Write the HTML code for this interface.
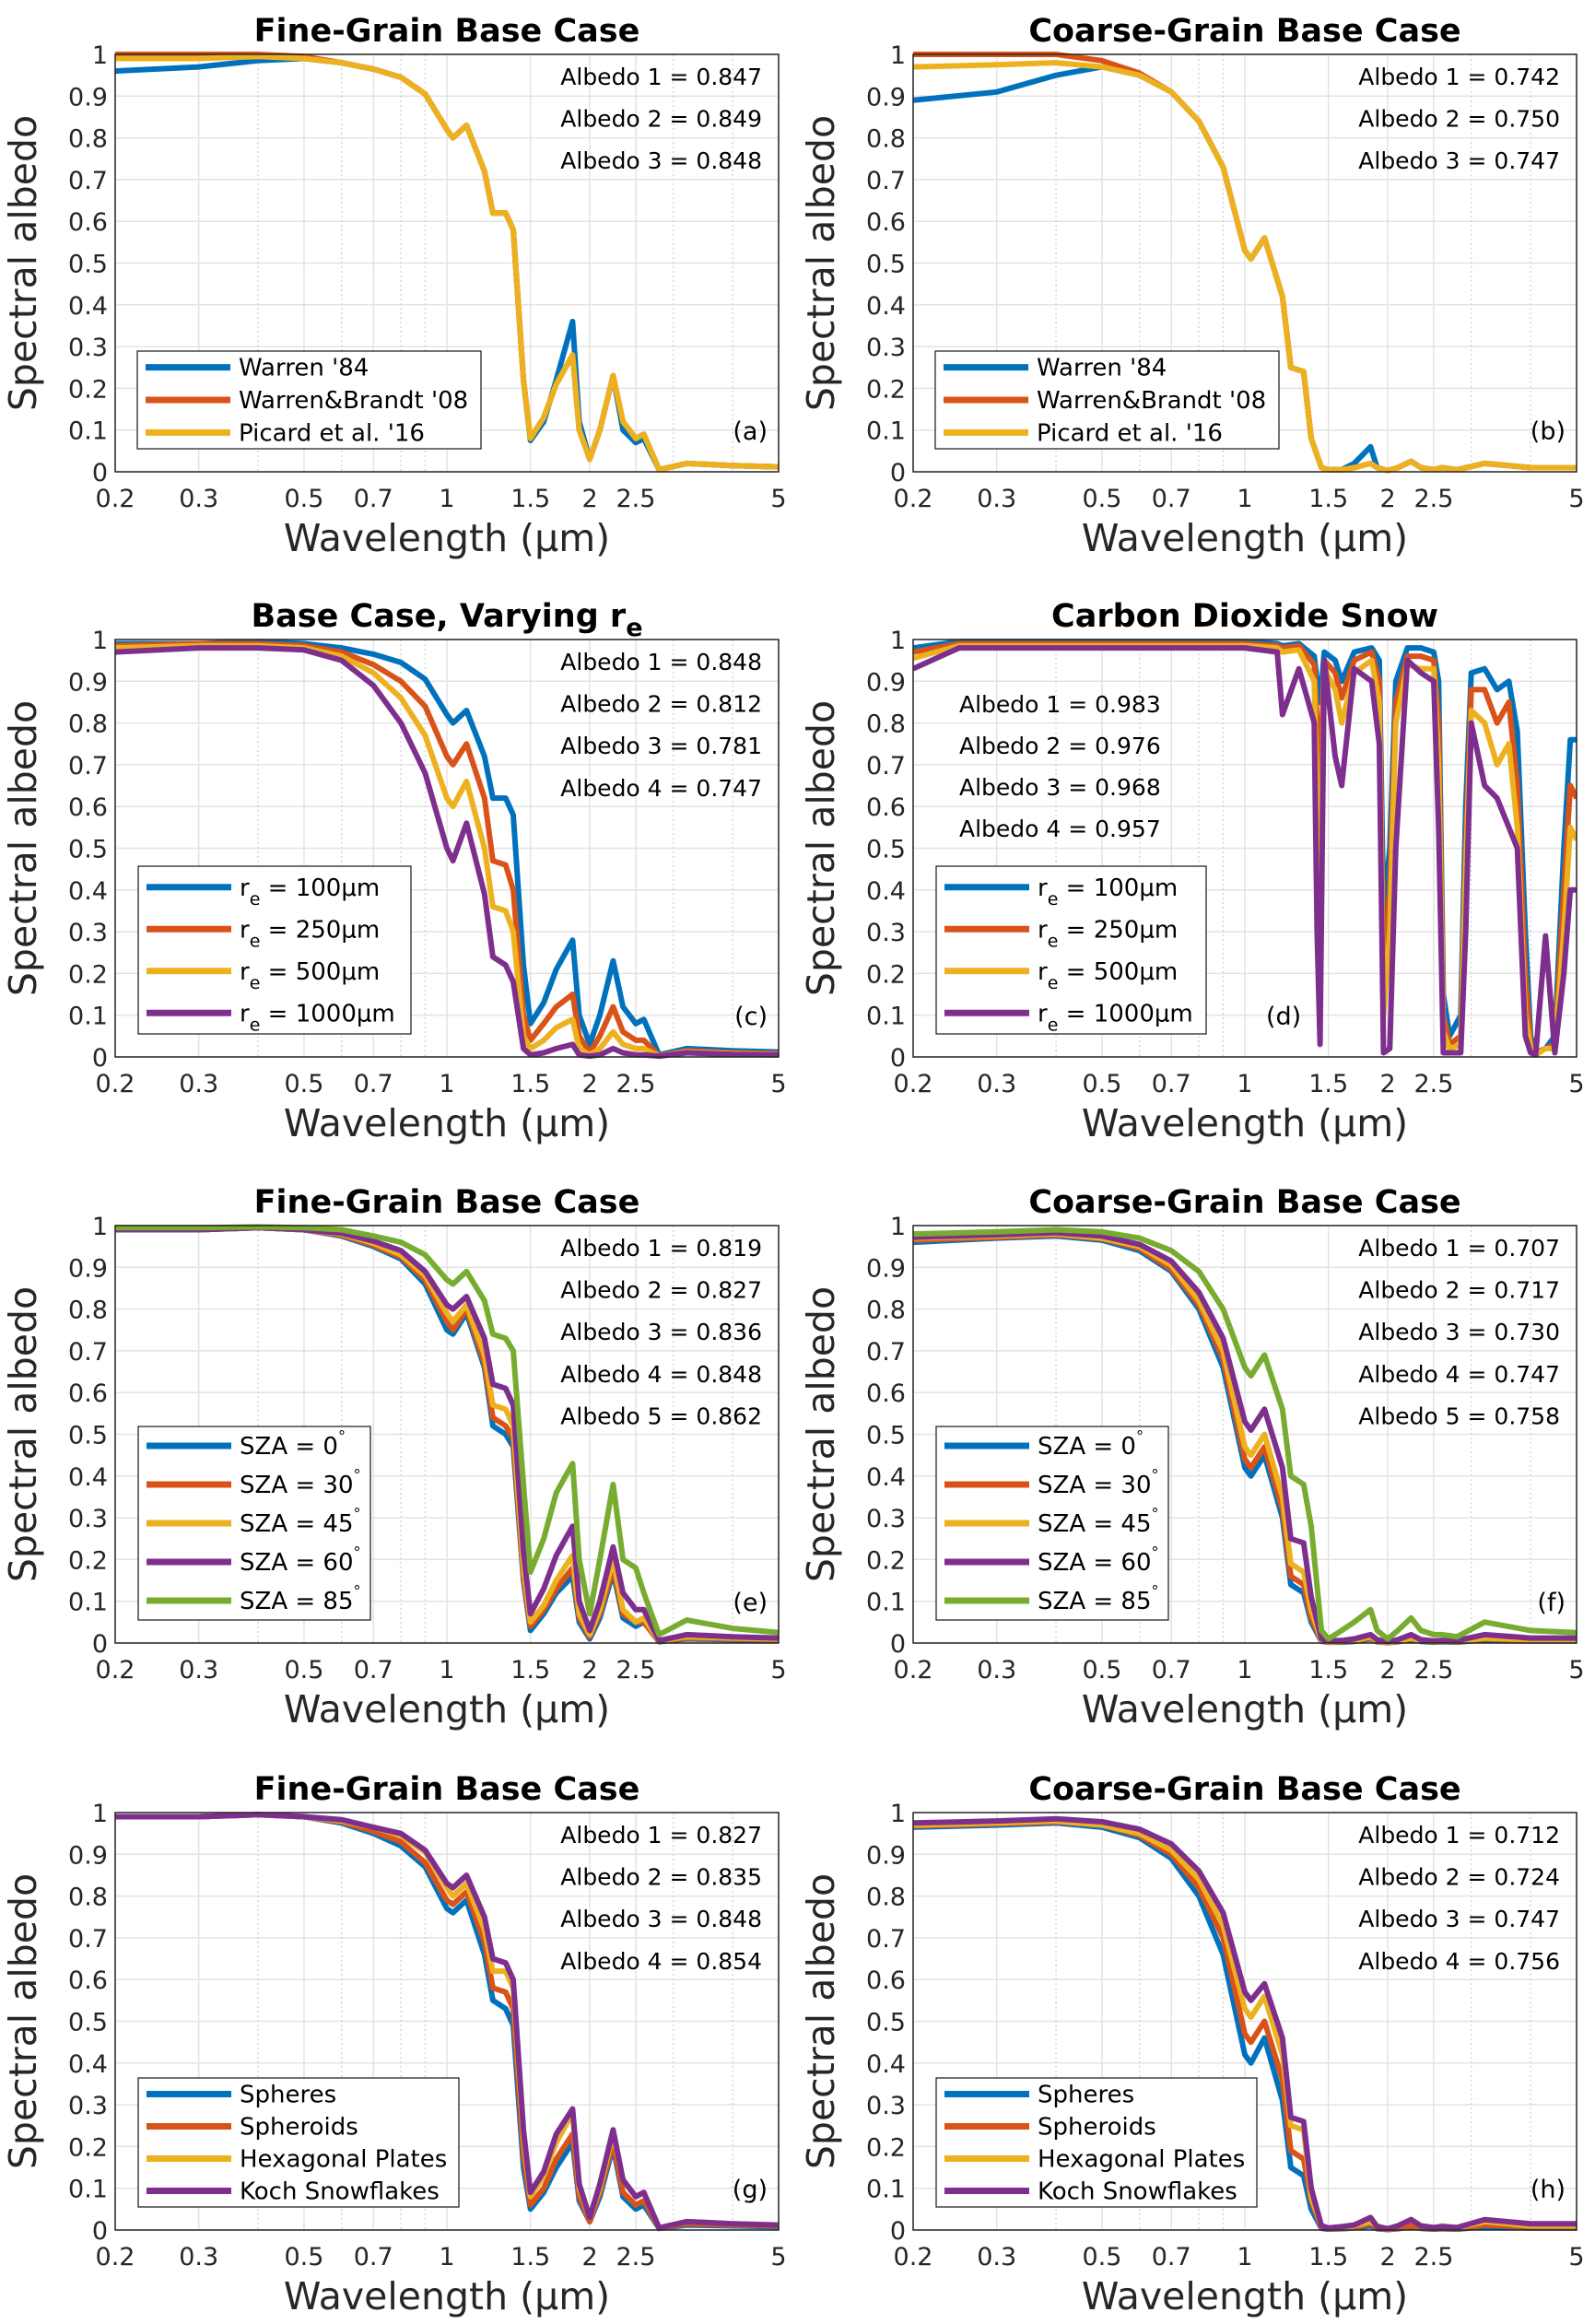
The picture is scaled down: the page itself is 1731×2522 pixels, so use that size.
<!DOCTYPE html>
<html><head><meta charset="utf-8"><style>
html,body{margin:0;padding:0;background:#fff;}
svg{display:block;font-family:"DejaVu Sans","Liberation Sans",sans-serif;}
</style></head><body>
<svg id="fig" xmlns="http://www.w3.org/2000/svg" width="1731" height="2522" viewBox="0 0 1731 2522"></svg>
<script>
// shared wavelength grid (um) for ice panels
const wlIce=[0.2,0.3,0.4,0.5,0.6,0.7,0.8,0.9,1.0,1.03,1.1,1.2,1.25,1.33,1.38,1.45,1.5,1.6,1.7,1.84,1.9,2.0,2.1,2.24,2.35,2.5,2.6,2.8,3.2,4,5];
// (a)
const aWarren=[.96,.97,.985,.99,.98,.965,.945,.905,.82,.80,.83,.72,.62,.62,.58,.22,.075,.12,.22,.36,.12,.03,.10,.23,.10,.07,.08,.005,.02,.015,.012];
const aBrandt=[1,1,1,.995,.98,.965,.945,.905,.82,.80,.83,.72,.62,.62,.58,.22,.08,.13,.21,.28,.10,.03,.10,.23,.12,.08,.09,.005,.02,.015,.012];
const aPicard=[.99,.99,.995,.99,.98,.965,.945,.905,.82,.80,.83,.72,.62,.62,.58,.22,.08,.13,.21,.28,.10,.03,.10,.23,.12,.08,.09,.005,.02,.015,.012];
// (b)
const bWarren=[.89,.91,.95,.97,.95,.91,.84,.73,.53,.51,.56,.42,.25,.24,.08,.01,.005,.005,.02,.06,.01,.003,.01,.025,.01,.005,.01,.005,.02,.01,.01];
const bBrandt=[1,1,1,.985,.955,.91,.84,.73,.53,.51,.56,.42,.25,.24,.08,.01,.005,.005,.01,.02,.01,.003,.01,.025,.01,.005,.01,.005,.02,.01,.01];
const bPicard=[.97,.975,.98,.97,.95,.91,.84,.73,.53,.51,.56,.42,.25,.24,.08,.01,.005,.005,.01,.02,.01,.003,.01,.025,.01,.005,.01,.005,.02,.01,.01];
// (c)
const cR100=[.99,.99,.995,.99,.98,.965,.945,.905,.82,.80,.83,.72,.62,.62,.58,.22,.08,.13,.21,.28,.10,.03,.10,.23,.12,.08,.09,.005,.02,.015,.012];
const cR250=[.985,.99,.99,.985,.97,.94,.9,.84,.72,.70,.75,.62,.47,.46,.4,.1,.04,.08,.12,.15,.05,.01,.05,.12,.06,.04,.04,.003,.015,.01,.008];
const cR500=[.98,.985,.985,.98,.96,.92,.86,.77,.62,.6,.66,.5,.36,.35,.3,.05,.02,.04,.07,.09,.02,.005,.02,.06,.03,.02,.02,.002,.012,.008,.006];
const cR1000=[.97,.98,.98,.975,.95,.89,.8,.68,.5,.47,.56,.39,.24,.22,.18,.02,.005,.01,.02,.03,.005,.002,.005,.02,.01,.005,.005,.002,.01,.006,.005];
// (d) CO2 snow
const wlCO2=[0.2,0.25,0.3,1.0,1.17,1.2,1.3,1.4,1.42,1.44,1.47,1.55,1.6,1.7,1.85,1.92,1.96,2.02,2.08,2.2,2.35,2.5,2.56,2.62,2.7,2.85,2.92,3.0,3.2,3.4,3.6,3.75,3.9,4.0,4.1,4.3,4.5,4.7,4.85,5.0];
const dR100=[.98,.995,.995,.995,.99,.985,.99,.96,.9,.85,.97,.95,.9,.97,.98,.95,.35,.5,.9,.98,.98,.97,.9,.15,.05,.1,.6,.92,.93,.88,.9,.78,.3,.05,.01,.02,.05,.5,.76,.76];
const dR250=[.97,.99,.99,.99,.985,.98,.985,.94,.8,.65,.95,.92,.86,.95,.97,.9,.2,.4,.85,.96,.96,.95,.8,.1,.03,.05,.5,.88,.88,.8,.85,.65,.2,.03,.01,.02,.03,.4,.65,.62];
const dR500=[.955,.985,.985,.985,.98,.97,.975,.9,.6,.35,.93,.88,.8,.92,.95,.85,.1,.3,.8,.94,.93,.93,.7,.06,.02,.03,.45,.83,.8,.7,.75,.55,.1,.02,.005,.02,.02,.3,.55,.52];
const dR1000=[.93,.98,.98,.98,.97,.82,.93,.8,.3,.03,.95,.72,.65,.93,.9,.75,.01,.02,.5,.95,.92,.9,.55,.01,.01,.01,.3,.8,.65,.62,.55,.5,.05,.01,.005,.29,.01,.2,.4,.4];
// (e)
const eS0=[.99,.99,.995,.99,.975,.95,.92,.86,.75,.74,.79,.66,.52,.50,.47,.15,.03,.07,.12,.16,.05,.01,.06,.17,.06,.04,.05,.003,.01,.008,.006];
const eS30=[.99,.99,.995,.99,.977,.953,.925,.87,.77,.75,.80,.67,.54,.52,.49,.16,.04,.08,.13,.18,.06,.015,.07,.18,.07,.05,.05,.004,.012,.01,.008];
const eS45=[.99,.99,.995,.99,.98,.958,.93,.88,.79,.77,.81,.69,.57,.56,.52,.18,.05,.09,.15,.21,.07,.02,.08,.20,.08,.05,.06,.005,.015,.012,.01];
const eS60=[.99,.99,.995,.99,.982,.963,.94,.89,.81,.80,.83,.73,.62,.61,.57,.22,.07,.13,.21,.28,.10,.03,.10,.23,.12,.08,.08,.006,.02,.015,.012];
const eS85=[.995,.995,.997,.995,.99,.975,.96,.93,.87,.86,.89,.82,.74,.73,.70,.38,.17,.25,.36,.43,.20,.07,.20,.38,.20,.18,.12,.02,.055,.035,.025];
// (f)
const fS0=[.96,.97,.975,.965,.94,.89,.80,.66,.42,.40,.45,.30,.14,.12,.05,.004,.002,.002,.004,.01,.003,.001,.003,.008,.004,.002,.003,.002,.008,.005,.005];
const fS30=[.965,.972,.978,.968,.945,.895,.81,.68,.44,.42,.47,.32,.16,.14,.06,.005,.002,.003,.005,.012,.004,.001,.004,.01,.005,.003,.004,.003,.01,.006,.006];
const fS45=[.97,.975,.98,.97,.95,.905,.82,.70,.47,.45,.50,.35,.19,.17,.08,.006,.003,.004,.006,.015,.005,.002,.005,.012,.006,.004,.005,.004,.012,.008,.008];
const fS60=[.972,.978,.983,.975,.955,.915,.84,.73,.53,.51,.56,.42,.25,.24,.11,.01,.005,.006,.01,.02,.008,.003,.008,.02,.008,.005,.006,.006,.02,.012,.012];
const fS85=[.98,.985,.99,.985,.97,.94,.89,.80,.66,.64,.69,.56,.40,.38,.28,.03,.01,.03,.05,.08,.03,.01,.03,.06,.03,.02,.02,.015,.05,.03,.025];
// (g)
const gSph=[.99,.99,.995,.99,.975,.95,.92,.87,.77,.76,.79,.66,.55,.53,.49,.15,.05,.09,.15,.21,.07,.02,.08,.20,.08,.05,.06,.004,.012,.01,.008];
const gSpd=[.99,.99,.995,.99,.978,.955,.93,.88,.79,.78,.81,.69,.58,.57,.53,.18,.06,.10,.17,.23,.08,.02,.09,.21,.09,.06,.07,.004,.015,.012,.01];
const gHex=[.99,.99,.995,.99,.98,.965,.945,.905,.82,.80,.83,.72,.62,.62,.58,.22,.08,.13,.21,.28,.10,.03,.10,.23,.12,.08,.09,.005,.02,.015,.012];
const gKoch=[.99,.99,.995,.99,.983,.965,.95,.91,.83,.82,.85,.75,.65,.64,.60,.24,.09,.14,.23,.29,.11,.03,.11,.24,.12,.08,.09,.005,.02,.015,.012];
// (h)
const hSph=[.965,.97,.975,.965,.94,.89,.80,.66,.42,.40,.46,.31,.15,.13,.05,.004,.002,.003,.005,.01,.003,.001,.003,.008,.004,.002,.003,.002,.008,.005,.005];
const hSpd=[.968,.973,.978,.97,.945,.9,.82,.70,.47,.45,.50,.36,.19,.17,.07,.006,.003,.004,.006,.015,.004,.002,.004,.01,.005,.003,.004,.003,.012,.008,.008];
const hHex=[.97,.975,.98,.97,.95,.91,.84,.73,.53,.51,.56,.42,.25,.24,.08,.01,.005,.005,.01,.02,.01,.003,.01,.025,.01,.005,.01,.005,.02,.01,.01];
const hKoch=[.975,.98,.985,.978,.96,.925,.86,.76,.57,.55,.59,.46,.27,.26,.10,.01,.005,.008,.012,.03,.008,.003,.01,.025,.01,.006,.008,.006,.025,.015,.015];

const xTickVals=[0.2,0.3,0.5,0.7,1,1.5,2,2.5,5];
const xTickLabels=["0.2","0.3","0.5","0.7","1","1.5","2","2.5","5"];
const xMinorVals=[0.4,0.6,0.8,0.9,3,4];
const yTickVals=[0,0.1,0.2,0.3,0.4,0.5,0.6,0.7,0.8,0.9,1];
const yTickLabels=["0","0.1","0.2","0.3","0.4","0.5","0.6","0.7","0.8","0.9","1"];

const C=["#0072BD","#D95319","#EDB120","#7E2F8E","#77AC30"];
const NS="http://www.w3.org/2000/svg";
const svg=document.getElementById('fig');
function mk(tag,attrs,parent){const e=document.createElementNS(NS,tag);for(const k in attrs)e.setAttribute(k,attrs[k]);(parent||svg).appendChild(e);return e;}

const colX=[125,991], W=720, H=453, rowY=[59,694,1330,1967];
const re=(v)=>({pre:"r",sub:"e",post:" = "+v+"\u03bcm"});
const sza=(v)=>({pre:"SZA = "+v,sup:"\u00b0"});
const panels=[
 {id:"a",title:"Fine-Grain Base Case",c:0,r:0,wl:wlIce,series:[aWarren,aBrandt,aPicard],names:["Warren '84","Warren&Brandt '08","Picard et al. '16"],alb:["0.847","0.849","0.848"],leg:{x:24,y:322,w:373,sp:34}},
 {id:"b",title:"Coarse-Grain Base Case",c:1,r:0,wl:wlIce,series:[bWarren,bBrandt,bPicard],names:["Warren '84","Warren&Brandt '08","Picard et al. '16"],alb:["0.742","0.750","0.747"],leg:{x:24,y:322,w:373,sp:34}},
 {id:"c",title:"Base Case, Varying r",titleSub:"e",c:0,r:1,wl:wlIce,series:[cR100,cR250,cR500,cR1000],names:[re("100"),re("250"),re("500"),re("1000")],alb:["0.848","0.812","0.781","0.747"],leg:{x:25,y:246,w:296,sp:45}},
 {id:"d",title:"Carbon Dioxide Snow",c:1,r:1,wl:wlCO2,series:[dR100,dR250,dR500,dR1000],names:[re("100"),re("250"),re("500"),re("1000")],alb:["0.983","0.976","0.968","0.957"],leg:{x:25,y:246,w:293,sp:45},albLeft:true,labX:383},
 {id:"e",title:"Fine-Grain Base Case",c:0,r:2,wl:wlIce,series:[eS0,eS30,eS45,eS60,eS85],names:[sza("0"),sza("30"),sza("45"),sza("60"),sza("85")],alb:["0.819","0.827","0.836","0.848","0.862"],leg:{x:25,y:218,w:252,sp:42}},
 {id:"f",title:"Coarse-Grain Base Case",c:1,r:2,wl:wlIce,series:[fS0,fS30,fS45,fS60,fS85],names:[sza("0"),sza("30"),sza("45"),sza("60"),sza("85")],alb:["0.707","0.717","0.730","0.747","0.758"],leg:{x:25,y:218,w:252,sp:42}},
 {id:"g",title:"Fine-Grain Base Case",c:0,r:3,wl:wlIce,series:[gSph,gSpd,gHex,gKoch],names:["Spheres","Spheroids","Hexagonal Plates","Koch Snowflakes"],alb:["0.827","0.835","0.848","0.854"],leg:{x:25,y:288,w:348,sp:34}},
 {id:"h",title:"Coarse-Grain Base Case",c:1,r:3,wl:wlIce,series:[hSph,hSpd,hHex,hKoch],names:["Spheres","Spheroids","Hexagonal Plates","Koch Snowflakes"],alb:["0.712","0.724","0.747","0.756"],leg:{x:25,y:288,w:348,sp:34}}
];

panels.forEach(p=>{
 const L=colX[p.c], T=rowY[p.r];
 const xs=v=>L+W*Math.log(v/0.2)/Math.log(25);
 const ys=v=>T+H*(1-v);
 const g=mk('g',{});
 
 
 const bg=mk('rect',{x:L,y:T,width:W,height:H,fill:'#fff'},g);
 
 
 yTickVals.forEach(v=>{const l=mk('line',{x1:L,x2:L+W,y1:ys(v),y2:ys(v),stroke:'#e3e3e3','stroke-width':1.5},g);
  
  });
 xTickVals.forEach(v=>{const l=mk('line',{x1:xs(v),x2:xs(v),y1:T,y2:T+H,stroke:'#e3e3e3','stroke-width':1.5},g);
  
  });
 xMinorVals.forEach(v=>{const l=mk('line',{x1:xs(v),x2:xs(v),y1:T,y2:T+H,stroke:'#cfcfcf','stroke-width':1.2,'stroke-dasharray':'2,3'},g);
  
  });
 const cp=mk('clipPath',{id:'cp'+p.id},g);mk('rect',{x:L,y:T-3,width:W,height:H+6},cp);
 p.series.forEach((s,i)=>{
  const d=s.map((v,k)=>(k?'L':'M')+xs(p.wl[k]).toFixed(1)+','+ys(v).toFixed(1)).join('');
  const path=mk('path',{d:d,fill:'none',stroke:C[i],'stroke-width':6,'stroke-linejoin':'round','clip-path':'url(#cp'+p.id+')'},g);
  
  
 });
 const box=mk('rect',{x:L,y:T,width:W,height:H,fill:'none',stroke:'#262626','stroke-width':1.5},g);
 
 
 yTickVals.forEach((v,i)=>{const t=mk('text',{x:L-8,y:ys(v)+10,'text-anchor':'end','font-size':27,fill:'#262626'},g);t.textContent=yTickLabels[i];
  
  });
 xTickVals.forEach((v,i)=>{const t=mk('text',{x:xs(v),y:T+H+38,'text-anchor':'middle','font-size':27,fill:'#262626'},g);t.textContent=xTickLabels[i];
  
  });
 const xl=mk('text',{x:L+W/2,y:T+H+86,'text-anchor':'middle','font-size':41,fill:'#262626'},g);xl.textContent='Wavelength (\u03bcm)';
 
 
 const yl=mk('text',{x:0,y:0,'text-anchor':'middle','font-size':41,fill:'#262626',transform:`translate(${L-86},${T+H/2}) rotate(-90)`},g);yl.textContent='Spectral albedo';
 
 
 const ti=mk('text',{x:L+W/2,y:T-14,'text-anchor':'middle','font-size':35,'font-weight':'bold',fill:'#000'},g);ti.textContent=p.title;
 if(p.titleSub){const ts=mk('tspan',{dy:10,'font-size':27},ti);ts.textContent=p.titleSub;}
 
 
 p.alb.forEach((a,i)=>{
  const t=p.albLeft?mk('text',{x:L+50,y:T+79+45*i,'font-size':25,fill:'#000'},g):mk('text',{x:L+W-18,y:T+33+45.6*i,'text-anchor':'end','font-size':25,fill:'#000'},g);
  t.textContent='Albedo '+(i+1)+' = '+a;
  
  
 });
 const lab=p.labX?mk('text',{x:L+p.labX,y:T+H-35,'font-size':27,fill:'#000'},g):mk('text',{x:L+W-12,y:T+H-35,'text-anchor':'end','font-size':27,fill:'#000'},g);
 lab.textContent='('+p.id+')';
 
 
 const lg=p.leg, n=p.names.length;
 const lgG=mk('g',{},g);
 
 
 mk('rect',{x:L+lg.x,y:T+lg.y,width:lg.w,height:H-25-lg.y,fill:'#fff',stroke:'#262626','stroke-width':1.3},lgG);
 const rowH=(H-25-lg.y)/n;
 p.names.forEach((nm,i)=>{
  const cy=T+lg.y+rowH*(i+0.5);
  const e=mk('g',{},lgG);
  
  
  mk('line',{x1:L+lg.x+9,x2:L+lg.x+101,y1:cy,y2:cy,stroke:C[i],'stroke-width':7},e);
  const t=mk('text',{x:L+lg.x+110,y:cy+9,'font-size':26,fill:'#000'},e);
  if(typeof nm==='string'){t.textContent=nm;}
  else if(nm.sub){const a=mk('tspan',{},t);a.textContent=nm.pre;const b=mk('tspan',{dy:10,'font-size':19},t);b.textContent=nm.sub;const c=mk('tspan',{dy:-10},t);c.textContent=nm.post;}
  else {const a=mk('tspan',{},t);a.textContent=nm.pre;const b=mk('tspan',{dy:-14,'font-size':16},t);b.textContent=nm.sup;}
 });
});
</script>
</body></html>
